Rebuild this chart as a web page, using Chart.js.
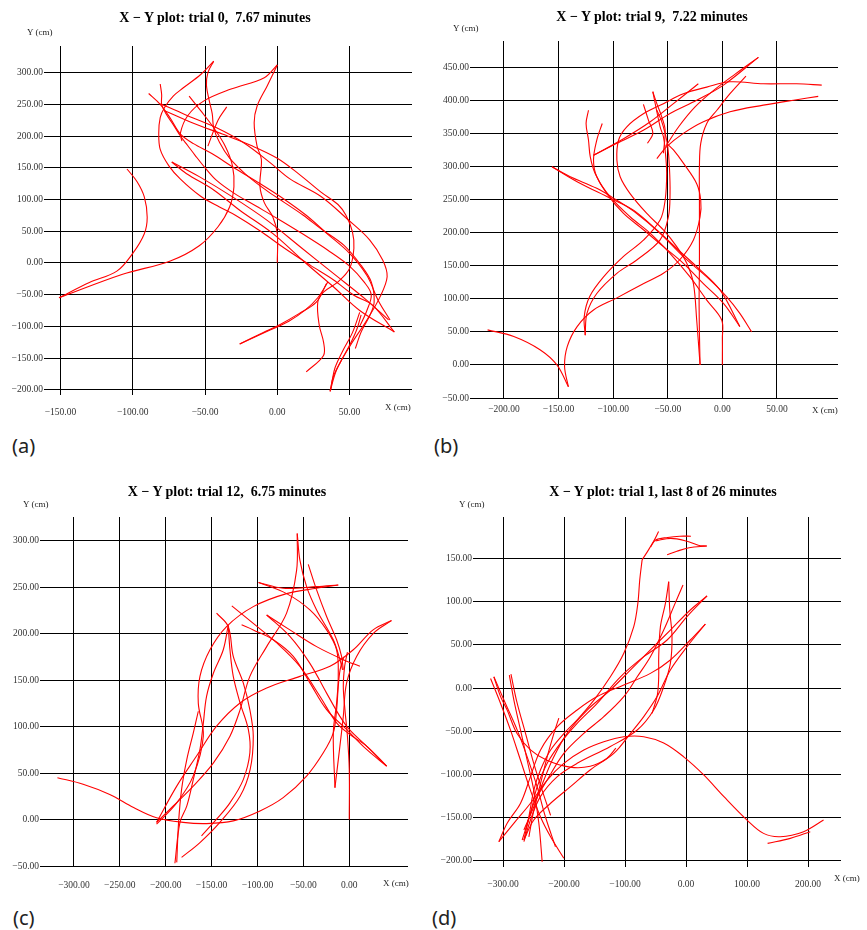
<!DOCTYPE html>
<html>
<head>
<meta charset="utf-8">
<script src="https://cdn.jsdelivr.net/npm/chart.js@4.4.1/dist/chart.umd.min.js"></script>
<style>
  body { margin: 0; background: #fff; width: 867px; height: 930px; position: relative; overflow: hidden; }
  canvas { position: absolute; }
  .ttl { position: absolute; font: bold 14px "Liberation Serif", serif; white-space: nowrap; transform: translate(-50%, -50%); color: #000; }
  .ax { position: absolute; font: 9px "Liberation Serif", serif; white-space: nowrap; transform: translateY(-50%); color: #222; }
  .tag { position: absolute; font: 20px "Noto Sans", sans-serif; transform: translateY(-50%); color: #222; }
</style>
</head>
<body>

<canvas id="chartA" width="430" height="425" style="left:0;top:0"></canvas>
<canvas id="chartB" width="437" height="425" style="left:430px;top:0"></canvas>
<canvas id="chartC" width="430" height="425" style="left:0;top:470px"></canvas>
<canvas id="chartD" width="437" height="425" style="left:430px;top:470px"></canvas>

<div class="ttl" style="left:215px;top:18px">X − Y plot: trial 0,&nbsp; 7.67 minutes</div>
<div class="ttl" style="left:652px;top:17px">X − Y plot: trial 9,&nbsp; 7.22 minutes</div>
<div class="ttl" style="left:227px;top:492px">X − Y plot: trial 12,&nbsp; 6.75 minutes</div>
<div class="ttl" style="left:663px;top:492px">X − Y plot: trial 1, last 8 of 26 minutes</div>

<div class="ax" style="left:27px;top:32px">Y (cm)</div>
<div class="ax" style="left:453px;top:28px">Y (cm)</div>
<div class="ax" style="left:23px;top:504px">Y (cm)</div>
<div class="ax" style="left:459px;top:504px">Y (cm)</div>
<div class="ax" style="left:385px;top:407px">X (cm)</div>
<div class="ax" style="left:812px;top:410px">X (cm)</div>
<div class="ax" style="left:383px;top:883px">X (cm)</div>
<div class="ax" style="left:834px;top:878px">X (cm)</div>

<div class="tag" style="left:12px;top:445px">(a)</div>
<div class="tag" style="left:434px;top:445px">(b)</div>
<div class="tag" style="left:13px;top:917px">(c)</div>
<div class="tag" style="left:432px;top:917px">(d)</div>

<script>
// ===== TICK VALUES =====
const trial0XTicks = [-150, -100, -50, 0, 50];
const trial0YTicks = [-200, -150, -100, -50, 0, 50, 100, 150, 200, 250, 300];
const trial9XTicks = [-200, -150, -100, -50, 0, 50];
const trial9YTicks = [-50, 0, 50, 100, 150, 200, 250, 300, 350, 400, 450];
const trial12XTicks = [-300, -250, -200, -150, -100, -50, 0];
const trial12YTicks = [-50, 0, 50, 100, 150, 200, 250, 300];
const trial1XTicks = [-300, -200, -100, 0, 100, 200];
const trial1YTicks = [-200, -150, -100, -50, 0, 50, 100, 150];

// ===== TRACKS (x cm, y cm) =====
const trial0Tracks = [
  [[-151,-55],[-130,-31],[-111,-13],[-100,15],[-92,46],[-90,72],[-92,104],[-97,128],[-104,148]],
  [[-151,-55],[-107,-18],[-74,3],[-54,27],[-41,57],[-33,88],[-30,120],[-31,153],[-36,184],[-44,213],[-53,240],[-61,263]],
  [[-35,246],[-41,225],[-48,184]],
  [[0,312],[-9,292],[-32,274],[-51,255],[-62,232],[-67,205],[-66,192]],
  [[0,312],[-7,279],[-14,247],[-16,221],[-14,184],[-11,163],[-12,121],[-9,95],[-3,72],[0,46],[0,0]],
  [[-44,318],[-53,297],[-65,276],[-72,263],[-78,245],[-81,229],[-82,205],[-81,179],[-75,153],[-67,132],[-53,105],[-40,88],[-29,75],[-11,49],[5,23],[23,-4],[39,-27],[53,-51],[66,-67],[81,-109]],
  [[-44,318],[-48,300],[-49,280],[-47,255],[-45,235],[-44,213],[-40,190],[-33,165],[-22,140],[-8,115],[5,95],[18,75],[30,54],[46,28],[58,-4],[65,-30],[67,-62],[64,-83],[58,-109],[54,-135]],
  [[-81,251],[-64,234],[-42,213],[-23,189],[-5,158],[9,132],[30,105],[49,68],[64,36],[73,4],[76,-22],[71,-54],[62,-90],[50,-132],[41,-169],[36.5,-203]],
  [[-89,267],[-81,250],[-74,228],[-67,203],[-58,188],[-45,172],[-30,150],[-12,125],[5,100],[20,75],[35,45],[50,15],[62,-20],[70,-60],[78,-90]],
  [[-73,159],[-54,136],[-31,104],[-7,67],[16,25],[39,-17],[62,-59],[77,-90]],
  [[-73,159],[-63,141],[-44,115],[-26,83],[-3,46],[20,-1],[39,-38],[57,-75],[81,-109]],
  [[-81,282],[-80,265],[-80,250],[-77,235],[-72,218],[-67,200],[-62,185],[-57,170],[-50,150],[-42,130],[-30,110],[-15,90],[0,70],[18,45],[35,20],[50,-5],[60,-30],[65,-50],[62,-75],[57,-100]],
  [[-26,-128],[-10,-110],[2,-97],[15,-80],[27,-62],[34,-33]],
  [[-26,-128],[-5,-106],[8,-92],[19,-75],[28,-55],[35,-30]],
  [[-78,240],[-58,220],[-38,203],[-18,185],[0,165],[15,140],[30,112],[42,92],[47.5,75],[52,49],[53,23],[50,-9],[42,-30],[32,-46],[28,-62],[29,-98],[32,-125],[32,-146],[20,-172]],
  [[58,-82],[55,-105],[50,-130],[44,-155],[39,-178],[36.5,-202]],
  [[57,-78],[52,-110],[45,-140],[40,-165],[38,-185],[37,-200]]
];

const trial9Tracks = [
  [[-215,53],[-191,43],[-167,23],[-151.5,0],[-141,-33]],
  [[-141,-33],[-144.5,-2.5],[-142,28],[-133,58],[-118,83],[-97,101],[-72,123],[-54,138.5],[-39,159],[-26.5,189],[-20.4,224],[-19.8,249],[-23.5,274],[-35.7,305],[-44.8,325],[-51,335]],
  [[-125.6,45],[-126.5,73],[-121.6,103],[-108.8,133],[-90.5,164],[-72,189],[-57,219],[-52.4,249],[-51,290],[-52.4,325],[-54,345],[-57,360],[-63.7,413]],
  [[-125.6,45],[-124,78],[-115,108],[-96.6,138.5],[-78.4,158.6],[-57,189],[-49.4,224],[-47.9,259],[-48.5,300],[-50,330],[-52.4,350],[-56,370],[-60,385]],
  [[-20.4,0],[-21,48],[-21.3,98],[-21,148.5],[-21,199],[-21,249],[-21,300],[-19.8,335],[-14.3,365],[-5,385],[7,410],[21.6,436.6]],
  [[-20.4,0],[-23.5,68],[-26.5,123],[-32.6,153.6],[-41.8,178.8],[-54,204],[-69.2,229],[-84.5,259],[-93.6,284.5],[-96.6,309.7],[-95,340],[-87.5,360],[-72,380],[-54,395],[-35.7,410],[-14.3,420],[7,428],[37.5,425],[68,425],[91,423]],
  [[-118,317],[-96.6,335],[-72,355],[-47.9,380],[-23.5,400],[1,423],[33,465]],
  [[-118,317],[-90.5,342],[-66,367.6],[-44.8,395],[-22,425]],
  [[-122.6,385],[-124.8,365],[-122.6,340],[-121,315],[-116.5,289.5],[-105.8,259],[-90.5,229],[-72,204],[-54,178.8],[-35.7,153.6],[-17.4,123],[1,93],[16,58]],
  [[-110,365],[-115,340],[-118,310],[-115,284.5],[-102.7,254],[-84.5,224],[-66,199],[-48,168.7],[-29.6,133],[-14.3,98],[-0.6,68],[0,40],[0,0]],
  [[-156,299.6],[-139.3,284.5],[-115,267],[-96.6,249],[-78.4,229],[-57,199],[-35.7,163.6],[-14.3,133],[4,103],[16,78],[26.8,50]],
  [[-156,299.6],[-133,277],[-102.7,252],[-81.4,234],[-60,204],[-41.8,176],[-23.5,148.5],[-2,113],[16,58]],
  [[-60,312],[-51,330],[-35.7,350],[-17.4,367.6],[7,382.7],[37.5,392.7],[68,401],[87.8,406]],
  [[-72.3,394],[-67.7,370],[-63.7,350],[-68.6,335]],
  [[-63.7,413],[-60,395],[-55.5,375],[-52.4,355],[-54,320]],
  [[-52,330],[-40,360],[-25,390],[-8,415],[12,440],[33,465]]
];

const trial12Tracks = [
  [[-318,45],[-290,38],[-261,27],[-235,13],[-210,2],[-181,-3],[-155.5,-4.3],[-126.4,-1.4],[-97.3,9.3],[-72,23.6],[-46.5,46.8],[-28.3,71.8],[-17.4,93.3],[-13.8,118],[-12,143],[-10,161],[-6,175]],
  [[-210,-5],[-188,18],[-170,47],[-159,90],[-164.5,125],[-162.7,154],[-151.8,182.6],[-133.7,207.6],[-104.6,229],[-68.3,243],[-35.6,248.8],[-12,252.3]],
  [[-164.5,116.5],[-170,93],[-177,64.7],[-182.7,32.5],[-186,-3],[-188,-46]],
  [[-182.7,-40.7],[-162.7,-24.7],[-141,-3],[-119,25],[-108,54],[-104.6,89.7],[-108.3,118],[-115.5,147],[-126.4,175.5],[-131.9,207.6],[-144.6,222]],
  [[-131.9,209],[-130,182.6],[-126.4,154],[-119,125.5],[-110,96.9],[-108.3,71.8],[-115.5,43],[-130,18],[-144.6,0.4],[-161,-17.5]],
  [[-131.9,209],[-137.3,182.6],[-148,157.6],[-155.5,132.6],[-159,104],[-162.7,75.4],[-170,43],[-177,14.7],[-184.5,-3],[-190,-47]],
  [[-210,-3],[-191.8,14.6],[-170,36],[-148,61],[-130,89.7],[-119,118],[-108.3,154],[-90,186],[-68.3,222],[-57.4,268],[-56.7,307.7]],
  [[-56.7,307.7],[-53.8,279],[-46.5,250.5],[-35.6,225.5],[-17.4,193.4],[-10.2,172],[-7.3,161]],
  [[-44.7,274.5],[-35.6,247],[-24.7,218.4],[-13.8,193.4],[-8.4,175.5],[-6.5,161]],
  [[-98.8,255],[-72,248.8],[-35.6,250.5],[-12,252.3]],
  [[-98.8,255],[-68.3,243],[-42.9,225.5],[-24.7,204],[-13.8,182.6],[-12,154],[-13.8,125.4],[-17.4,93],[-15.6,34.3]],
  [[0,0],[0,54],[-2,89.7],[-4.7,118],[-6.5,143],[-5,165],[-2,180]],
  [[40.7,57.5],[18.9,75.4],[-2.9,96.9],[-24.7,118.3],[-42.9,147],[-61,175.5],[-82.8,193.4],[-104.6,204],[-117.3,209.4]],
  [[-128,229.8],[-104.6,211],[-79,190],[-53.8,164.8],[-32,132.6],[-13.8,104],[0,92],[18.9,79],[40.7,57.5]],
  [[-90,220],[-64.7,204],[-35.6,186],[-6.5,172],[11.6,164.8]],
  [[-90,220],[-64.7,197],[-42.9,168],[-24.7,136],[-10.2,111],[0,97],[18.9,79],[40.7,57.5]],
  [[46,214],[26,204],[4.4,182.6],[-21,164.8],[-53.8,154],[-90,141.5],[-119,125.4],[-144.6,100.4],[-166.4,68.3],[-188,36],[-210,-3]],
  [[46,214],[26,200],[8,175.5],[-2.9,147],[-6.5,111],[-10.2,79],[-15.6,34.3]]
];

const trial1Tracks = [
  [[225.4,-153.5],[192.7,-167],[154.5,-172.9],[127,-169],[100,-153.5],[61.7,-126],[29,-101],[-3.8,-80],[-36.6,-64],[-69.3,-56.6],[-102,-56.6],[-134.8,-62.4],[-167.6,-72],[-200.3,-87.6],[-227.6,-107],[-255,-134],[-282,-157],[-306.8,-178.7]],
  [[133.7,-180.6],[170.9,-174.8],[203.6,-167]],
  [[-72,149],[-62,160],[-52,172],[-45,182]],
  [[-58,164],[-50,172],[-30,175],[-10,176.5],[8,176.5]],
  [[-50,171],[-25,174],[0,171],[20,166],[34,165]],
  [[-31,155],[-15,159],[5,163],[34,165]],
  [[-72,149],[-75.9,125.6],[-79,98.4],[-85.7,71.3],[-102,40.3],[-124,13],[-151,-14],[-178.5,-37],[-200,-52.7],[-222,-72],[-238.5,-95],[-249.5,-118.6],[-257.6,-149.6],[-265.8,-176.7]],
  [[-28.4,123.6],[-33.8,98.4],[-42,71.3],[-44.8,36.4],[-44.8,13],[-47,-8],[-55.7,-29.5]],
  [[-28.4,123.6],[-26.7,90.7],[-23,59.7],[-25.7,28.7],[-36.6,1.6],[-53,-25.6],[-80,-48.8],[-124,-68],[-178.5,-87.6],[-211,-103],[-238.5,-126],[-255,-153.5],[-265.8,-178.7]],
  [[-5,119.8],[-20.2,94.6],[-36.6,67.4],[-58.4,36.4],[-80,13],[-102,-10],[-134.8,-33.3],[-167.6,-52.7],[-200.3,-76],[-227.6,-107],[-249.5,-134],[-263,-165]],
  [[34.4,107],[7,90.7],[-25.7,67.4],[-58.4,44.2],[-91,21],[-124,-2.3],[-162,-25.6],[-195,-52.7],[-216.7,-80],[-233,-107],[-249.5,-138],[-265.8,-165]],
  [[31.7,74.4],[7,55.8],[-25.7,32.6],[-58.4,17],[-102,3.5],[-145.7,-10],[-178.5,-25.6],[-211,-45],[-238.5,-72],[-255,-103],[-271.3,-134],[-293,-157],[-306.8,-178.7]],
  [[31.7,74.4],[1.6,48],[-25.7,21],[-47.5,-10],[-69.3,-33.3],[-91,-52.7],[-118.4,-76],[-156.7,-95],[-189.4,-114.7],[-222,-134],[-249.5,-153.5],[-265.8,-176.7]],
  [[34.4,107],[1.6,83],[-31,55.8],[-69.3,36.4],[-107.5,13],[-145.7,-17.8],[-178.5,-41],[-205.8,-64],[-227.6,-87.6],[-244,-114.7],[-255,-145.7],[-268.6,-176.7]],
  [[-320.4,11],[-304,-18],[-287.7,-49],[-271.3,-84],[-255,-119],[-238.5,-150],[-222,-173],[-200.3,-198]],
  [[-315,13],[-296,-18],[-276.7,-49],[-260.4,-80],[-244,-115],[-230.4,-150],[-214,-184.5]],
  [[-289.6,15],[-282.2,-14],[-271.3,-49],[-260.4,-84],[-249.5,-119],[-241.3,-157],[-235.8,-202]],
  [[-287,16],[-276.7,-18],[-263,-53],[-249.5,-88],[-235.8,-119],[-222,-148]],
  [[-208.5,-35],[-216.7,-53],[-227.6,-80],[-238.5,-111],[-249.5,-142],[-257.6,-173]],
  [[-315,13],[-304,-10],[-293,-26],[-277,-53],[-255,-72],[-228,-84],[-190,-92],[-157,-91],[-130,-82],[-115,-70]]
];

// ===== HELPERS =====
const fmtTick = (v) => (v < 0 ? "\u2212" : "") + Math.abs(v).toFixed(2);

function makeChart(id, tracks, xTicks, yTicks, box) {
  const ctx = document.getElementById(id).getContext("2d");
  const tickFont = { family: "Liberation Serif", size: 9.5 };
  return new Chart(ctx, {
    type: "scatter",
    data: {
      datasets: tracks.map((t) => ({
        data: t.map(([x, y]) => ({ x, y })),
        showLine: true,
        borderColor: "#ff0000",
        borderWidth: 1.1,
        pointRadius: 0,
        tension: 0.35,
        fill: false,
      })),
    },
    options: {
      responsive: false,
      animation: false,
      events: [],
      layout: { padding: { left: 0, top: box.top, right: box.right, bottom: 0 } },
      plugins: { legend: { display: false }, tooltip: { enabled: false } },
      scales: {
        x: {
          type: "linear",
          min: box.xMin,
          max: box.xMax,
          afterBuildTicks: (s) => { s.ticks = xTicks.map((v) => ({ value: v })); },
          afterFit: (s) => { s.height = box.xAxisH; },
          ticks: { callback: fmtTick, font: tickFont, color: "#333", padding: box.xPad, autoSkip: false, maxRotation: 0 },
          grid: { color: "#000", lineWidth: 1, drawTicks: false },
          border: { display: false },
        },
        y: {
          type: "linear",
          min: box.yMin,
          max: box.yMax,
          afterBuildTicks: (s) => { s.ticks = yTicks.map((v) => ({ value: v })); },
          afterFit: (s) => { s.width = box.left; },
          ticks: { callback: fmtTick, font: tickFont, color: "#333", padding: 1, autoSkip: false },
          grid: { color: "#000", lineWidth: 1, drawTicks: false },
          border: { display: false },
        },
      },
    },
  });
}

// ===== BUILD THE FOUR PANELS =====
makeChart("chartA", trial0Tracks, trial0XTicks, trial0YTicks,
  { left: 44, top: 46, right: 18, xAxisH: 30, xPad: 12, xMin: -161.4, xMax: 93.2, yMin: -208.3, yMax: 341.9 });
makeChart("chartB", trial9Tracks, trial9XTicks, trial9YTicks,
  { left: 40, top: 41, right: 29, xAxisH: 27, xPad: 6, xMin: -231.1, xMax: 105.9, yMin: -50, yMax: 489.7 });
makeChart("chartC", trial12Tracks, trial12XTicks, trial12YTicks,
  { left: 40, top: 47, right: 22, xAxisH: 28, xPad: 13, xMin: -337, xMax: 64, yMin: -51, yMax: 325.4 });
makeChart("chartD", trial1Tracks, trial1XTicks, trial1YTicks,
  { left: 43, top: 47, right: 26, xAxisH: 28, xPad: 12, xMin: -349.2, xMax: 254, yMin: -208.1, yMax: 198.8 });
</script>
</body>
</html>
